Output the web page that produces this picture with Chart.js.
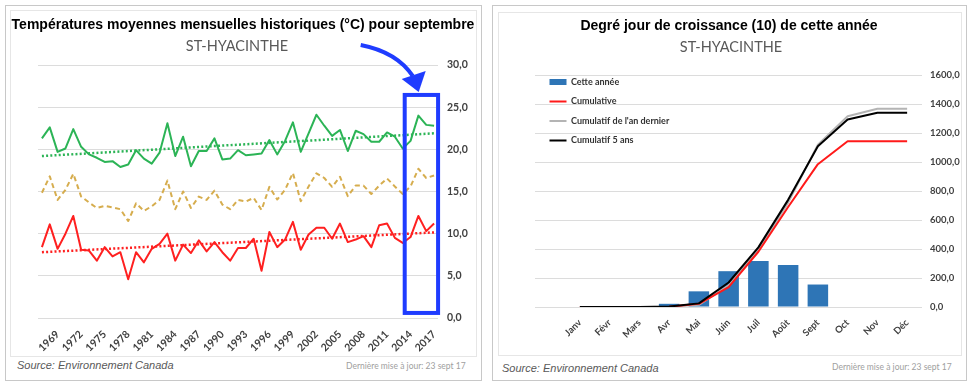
<!DOCTYPE html>
<html>
<head>
<meta charset="utf-8">
<script src="https://cdn.jsdelivr.net/npm/chart.js@4/dist/chart.umd.min.js"></script>
<style>
  body { margin: 0; width: 973px; height: 388px; background: #fff; position: relative; overflow: hidden; font-family: "Liberation Sans", Arial, sans-serif; }
  .frame { position: absolute; box-sizing: border-box; border: 1px solid #c8c8c8; }
  .inner { position: absolute; box-sizing: border-box; border: 1px solid #e6e6e6; }
  .title { position: absolute; font-weight: bold; font-size: 14px; line-height: 14px; color: #000; white-space: nowrap; transform: translateX(-50%); }
  .sub { position: absolute; font-family: Lato, sans-serif; font-size: 14.5px; line-height: 14px; color: #595959; white-space: nowrap; transform: translateX(-50%); }
  .src { position: absolute; font-style: italic; font-size: 11px; line-height: 11px; color: #595959; white-space: nowrap; }
  .maj { position: absolute; font-family: Lato, sans-serif; font-size: 8.5px; line-height: 8.5px; color: #a0a0a0; white-space: nowrap; }
  canvas { position: absolute; }
</style>
</head>
<body>
<div class="frame" style="left:5px;top:5px;width:477px;height:376px"></div>
<div class="inner" style="left:10px;top:10px;width:467px;height:347px"></div>
<div class="frame" style="left:492px;top:5px;width:475px;height:376px"></div>
<div class="inner" style="left:498px;top:12px;width:464px;height:344px"></div>

<canvas id="chart1" width="466" height="347" style="left:10px;top:10px"></canvas>
<canvas id="chart2" width="470" height="345" style="left:495px;top:10px"></canvas>

<div class="title" style="left:243px;top:17px">Températures moyennes mensuelles historiques (°C) pour septembre</div>
<div class="sub" style="left:237px;top:39px">ST-HYACINTHE</div>
<div class="src" style="left:17px;top:360px">Source: Environnement Canada</div>
<div class="maj" style="left:346px;top:362px">Dernière mise à jour: 23 sept 17</div>

<div class="title" style="left:729px;top:18px">Degré jour de croissance (10) de cette année</div>
<div class="sub" style="left:731px;top:40px">ST-HYACINTHE</div>
<div class="src" style="left:502px;top:363px">Source: Environnement Canada</div>
<div class="maj" style="left:832px;top:363px">Dernière mise à jour: 23 sept 17</div>

<script>
// septembre, 1967 - 2017
const years = ['1967','1968','1969','1970','1971','1972','1973','1974','1975','1976',
    '1977','1978','1979','1980','1981','1982','1983','1984','1985','1986',
    '1987','1988','1989','1990','1991','1992','1993','1994','1995','1996',
    '1997','1998','1999','2000','2001','2002','2003','2004','2005','2006',
    '2007','2008','2009','2010','2011','2012','2013','2014','2015','2016','2017'];

const tempMax = [21.3, 22.6, 19.7, 20.1, 22.4, 20.3, 19.4, 19.0, 18.5, 18.6,
    17.9, 18.2, 19.9, 18.9, 18.3, 19.6, 23.1, 19.2, 21.5, 18.0,
    19.8, 19.8, 21.3, 18.8, 18.9, 19.9, 19.3, 19.4, 19.5, 21.1,
    19.4, 21.0, 23.2, 19.7, 21.9, 24.1, 22.8, 21.6, 22.3, 19.8,
    22.2, 21.8, 20.9, 20.9, 22.0, 21.5, 20.1, 21.0, 24.0, 22.9, 22.8];

const tempMoy = [14.85, 16.8, 14.0, 15.2, 17.1, 14.4, 13.7, 13.05, 13.3, 13.1,
    12.9, 11.5, 13.6, 12.7, 13.25, 14.0, 16.3, 12.9, 15.0, 13.05,
    14.4, 14.0, 15.1, 13.45, 12.9, 14.0, 13.8, 14.25, 12.8, 15.55,
    14.05, 15.2, 17.2, 13.85, 15.6, 17.15, 16.6, 15.55, 16.75, 14.45,
    15.7, 15.7, 14.7, 15.7, 16.55, 15.6, 14.7, 15.6, 17.7, 16.6, 16.9];

const tempMin = [8.4, 11.1, 8.2, 10.0, 12.1, 8.1, 8.0, 6.8, 8.4, 7.3,
    7.8, 4.6, 7.8, 6.6, 8.2, 8.8, 10.0, 6.8, 8.7, 7.7,
    9.2, 7.9, 9.0, 7.8, 6.8, 8.3, 8.3, 9.4, 5.6, 10.2,
    8.4, 9.3, 11.4, 8.1, 9.9, 10.7, 10.7, 9.4, 11.2, 9.0,
    9.3, 9.7, 8.4, 11.0, 11.2, 9.5, 8.9, 9.6, 12.1, 10.3, 11.2];

// tendances lues aux deux bouts
const trendYears = ['1967', '2017'];
const trendMax = [19.2, 21.9];
const trendMin = [7.8, 10.15];

// degrés-jours
const months = ['Janv','Févr','Mars','Avr','Mai','Juin','Juil','Août','Sept','Oct','Nov','Déc'];
const gddMonth = [0, 0, 0, 22, 108, 247, 318, 290, 155, null, null, null];
const gddCumul = [0, 0, 0, 2, 22, 137, 381, 690, 985, 1143, 1143, 1143];
const gddLastYear = [0, 0, 0, 2, 15, 150, 393, 720, 1120, 1316, 1367, 1367];
const gdd5Years = [0, 0, 0, 3, 25, 169, 411, 739, 1108, 1293, 1339, 1339];

const axisFont = (size) => ({ family: 'Lato', size: size, weight: 'bold' });
const fmt = (v) => v.toFixed(1).replace('.', ',');

// encadré bleu + flèche
const highlight = {
    id: 'highlight',
    afterDatasetsDraw(chart) {
        const {ctx, scales: {x, y}} = chart;
        const left = x.getPixelForValue(years.indexOf('2013')) + 2;
        const right = x.getPixelForValue(years.length - 1) + 4;
        const top = y.getPixelForValue(26.45);
        const bottom = y.getPixelForValue(0.6);
        ctx.save();
        ctx.strokeStyle = '#1f3cff';
        ctx.fillStyle = '#1f3cff';
        ctx.lineWidth = 4;
        ctx.strokeRect(left, top, right - left, bottom - top);

        const tipX = left + 14, tipY = top - 3;
        ctx.beginPath();
        ctx.moveTo(tipX - 58, tipY - 47);
        ctx.quadraticCurveTo(tipX - 22, tipY - 40, tipX - 6, tipY - 16);
        ctx.stroke();
        ctx.beginPath();
        ctx.moveTo(tipX, tipY);
        ctx.lineTo(tipX - 17, tipY - 13);
        ctx.lineTo(tipX + 7, tipY - 21);
        ctx.closePath();
        ctx.fill();
        ctx.restore();
    }
};

// viz 1
new Chart(document.getElementById('chart1'), {
    type: 'line',
    data: {
        labels: years,
        datasets: [{
            data: tempMax,
            borderColor: '#2cb456',
            borderWidth: 2
        }, {
            data: tempMoy,
            borderColor: '#d6ad4e',
            borderWidth: 2,
            borderDash: [5, 3.5]
        }, {
            data: tempMin,
            borderColor: '#ff2020',
            borderWidth: 2
        }, {
            data: trendYears.map((yr, i) => ({x: yr, y: trendMax[i]})),
            borderColor: '#2cb456',
            borderWidth: 2.5,
            borderDash: [2, 2.2]
        }, {
            data: trendYears.map((yr, i) => ({x: yr, y: trendMin[i]})),
            borderColor: '#ff2020',
            borderWidth: 2.5,
            borderDash: [2, 2.2]
        }]
    },
    options: {
        responsive: false,
        animation: false,
        layout: { padding: { left: 28, top: 55, right: 0, bottom: 0 } },
        elements: {
            point: { radius: 0 },
            line: { tension: 0, borderJoinStyle: 'round' }
        },
        plugins: {
            legend: { display: false },
            tooltip: { enabled: false }
        },
        scales: {
            x: {
                offset: true,
                grid: { display: false },
                border: { display: false },
                afterFit: (s) => { s.height = 39; },
                ticks: {
                    autoSkip: false,
                    maxRotation: 45,
                    minRotation: 45,
                    padding: 2,
                    color: '#404040',
                    font: axisFont(10.5),
                    callback: (v, i) => ((i - 2) % 3 === 0 ? years[i] : '')
                }
            },
            y: {
                position: 'right',
                min: 0,
                max: 30,
                afterFit: (s) => { s.width = 38; },
                grid: { color: '#dcdcdc', drawTicks: false },
                border: { display: false },
                ticks: {
                    stepSize: 5,
                    padding: 9,
                    color: '#404040',
                    font: axisFont(10.5),
                    callback: (v) => fmt(v)
                }
            }
        }
    },
    plugins: [highlight]
});

// quadrillage prolongé sous la légende
const gridExtend = {
    id: 'gridExtend',
    beforeDatasetsDraw(chart) {
        const {ctx, chartArea, scales: {y}} = chart;
        ctx.save();
        ctx.strokeStyle = '#dcdcdc';
        ctx.lineWidth = 1;
        y.ticks.forEach((t, i) => {
            const py = Math.round(y.getPixelForTick(i)) + 0.5;
            ctx.beginPath();
            ctx.moveTo(40, py);
            ctx.lineTo(chartArea.left, py);
            ctx.stroke();
        });
        ctx.restore();
    }
};

// légende placée en haut à gauche, dans le cadre
const legendPlace = {
    id: 'legendPlace',
    beforeDraw(chart) {
        const lg = chart.legend;
        lg.left = 44;
        lg.right = 44 + lg.width;
        lg.top = 57;
        lg.bottom = 57 + lg.height;
    }
};

// viz 2
new Chart(document.getElementById('chart2'), {
    type: 'bar',
    data: {
        labels: months,
        datasets: [{
            label: 'Cette année',
            data: gddMonth,
            backgroundColor: '#2e75b6',
            pointStyle: 'rect',
            barPercentage: 0.69,
            categoryPercentage: 1,
            order: 4
        }, {
            type: 'line',
            label: 'Cumulative',
            data: gddCumul,
            borderColor: '#ff1a1a',
            borderWidth: 2,
            pointStyle: 'line',
            order: 2
        }, {
            type: 'line',
            label: "Cumulatif de l'an dernier",
            data: gddLastYear,
            borderColor: '#b4b4b4',
            borderWidth: 2,
            pointStyle: 'line',
            order: 3
        }, {
            type: 'line',
            label: 'Cumulatif 5 ans',
            data: gdd5Years,
            borderColor: '#000000',
            borderWidth: 2,
            pointStyle: 'line',
            order: 1
        }]
    },
    options: {
        responsive: false,
        animation: false,
        layout: { padding: { left: 70, top: 65, right: 0, bottom: 0 } },
        elements: {
            point: { radius: 0 },
            line: { tension: 0, borderJoinStyle: 'round' }
        },
        plugins: {
            tooltip: { enabled: false },
            legend: {
                position: 'chartArea',
                align: 'start',
                labels: {
                    usePointStyle: true,
                    pointStyleWidth: 17,
                    boxHeight: 6,
                    padding: 10.5,
                    color: '#333333',
                    font: axisFont(9),
                    sort: (a, b) => a.datasetIndex - b.datasetIndex
                }
            }
        },
        scales: {
            x: {
                grid: { display: false },
                border: { display: false },
                afterFit: (s) => { s.height = 48; },
                ticks: {
                    autoSkip: false,
                    maxRotation: 45,
                    minRotation: 45,
                    padding: 2,
                    color: '#404040',
                    font: axisFont(9.5)
                }
            },
            y: {
                position: 'right',
                min: 0,
                max: 1600,
                afterFit: (s) => { s.width = 43; },
                grid: { color: '#dcdcdc', drawTicks: false },
                border: { display: false },
                ticks: {
                    stepSize: 200,
                    padding: 8,
                    color: '#404040',
                    font: axisFont(9.5),
                    callback: (v) => fmt(v)
                }
            }
        }
    },
    plugins: [gridExtend, legendPlace]
});
</script>
</body>
</html>
